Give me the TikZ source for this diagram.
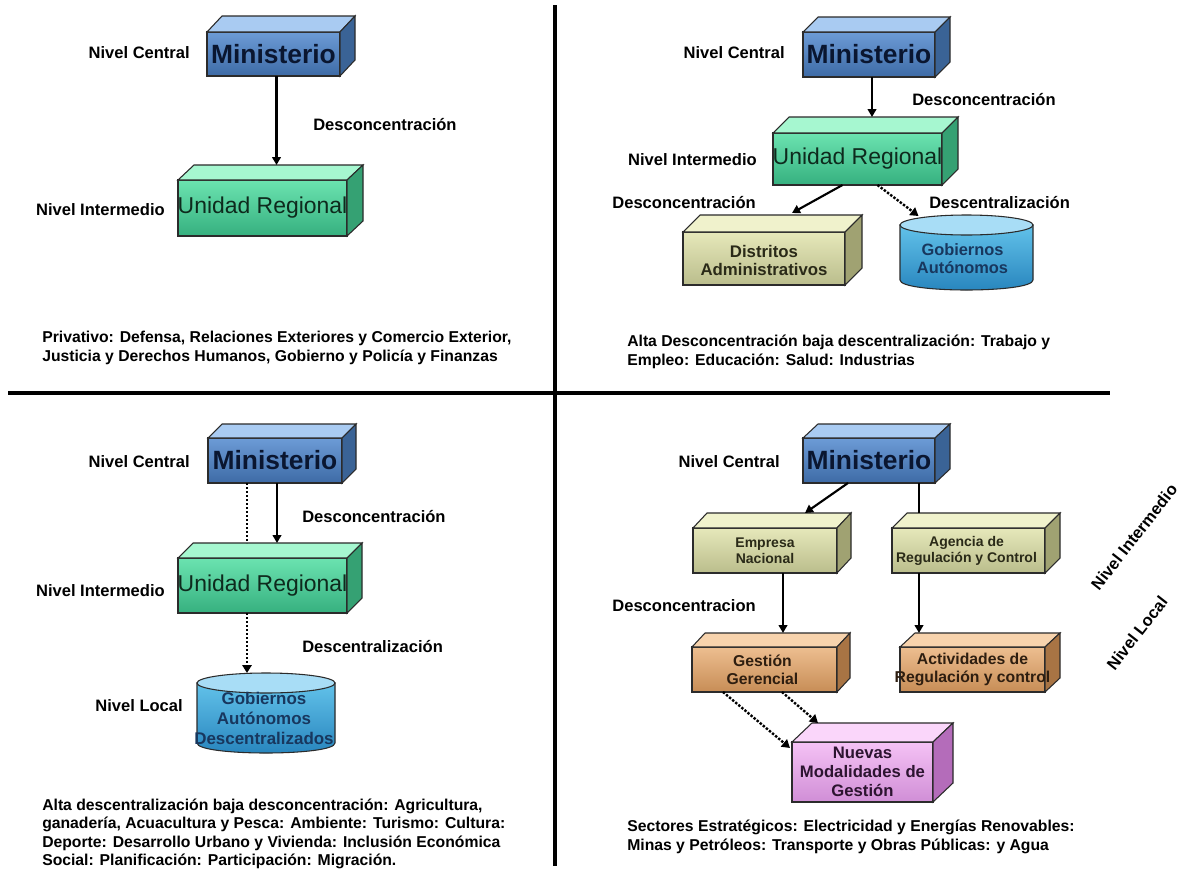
\documentclass[tikz,border=0pt]{standalone}
\usepackage{fontspec}
\setmainfont{Liberation Sans}
\usetikzlibrary{arrows.meta,calc,fit}

% palette
\definecolor{edgec}{HTML}{2B2B2B}
\definecolor{minA}{HTML}{6C9BD6}\definecolor{minB}{HTML}{3E6BA6}
\definecolor{minR}{HTML}{A9CBF2}\definecolor{minS}{HTML}{3A6396}\definecolor{minT}{HTML}{0A1630}
\definecolor{grnA}{HTML}{6BE3B0}\definecolor{grnB}{HTML}{36B07F}
\definecolor{grnR}{HTML}{A6F7D0}\definecolor{grnS}{HTML}{35A173}\definecolor{grnT}{HTML}{0E2A1D}
\definecolor{khaA}{HTML}{E6E8BA}\definecolor{khaB}{HTML}{BABD8C}
\definecolor{khaR}{HTML}{F0F2CC}\definecolor{khaS}{HTML}{A0A272}\definecolor{khaT}{HTML}{2A2A18}
\definecolor{tanA}{HTML}{EDBE90}\definecolor{tanB}{HTML}{C78D56}
\definecolor{tanR}{HTML}{F7D3AD}\definecolor{tanS}{HTML}{A87444}\definecolor{tanT}{HTML}{2E1E10}
\definecolor{pnkA}{HTML}{F5C2F5}\definecolor{pnkB}{HTML}{D08ED6}
\definecolor{pnkR}{HTML}{FAD6FA}\definecolor{pnkS}{HTML}{B46CBA}\definecolor{pnkT}{HTML}{2C1430}
\definecolor{cylA}{HTML}{62C2EA}\definecolor{cylB}{HTML}{2683BC}
\definecolor{cylR}{HTML}{A8DDF6}\definecolor{cylT}{HTML}{18375E}

% front face, roof and right side of a solid block; (#1-back) is the middle of its back top edge
\newcommand\solidbox[8]{%
  \node[fit={(#2,#3) (#4,#5)}, inner sep=0pt, outer sep=0pt, boxline, #8-front] (#1) {};
  \path[boxline, #8-roof] (#1.north west) -- ++(#6,-#7) -- ($(#1.north east)+(#6,-#7)$) -- (#1.north east) -- cycle;
  \path[boxline, #8-side] (#1.north east) -- ($(#1.north east)+(#6,-#7)$) -- ($(#1.south east)+(#6,-#7)$) -- (#1.south east) -- cycle;
  \coordinate (#1-back) at ($(#1.north)+(#6,-#7)$);
}
% upright drum: left, top, right, bottom, half-height of the rim
\newcommand\drum[6]{%
  \node[fit={(#2,#3) (#4,#5)}, inner sep=0pt, outer sep=0pt] (#1) {};
  \path[boxline, top color=cylA, bottom color=cylB] (#2,#3+#6) -- (#2,#5-#6)
    .. controls (#2,#5+#6/3) and (#4,#5+#6/3) .. (#4,#5-#6) -- (#4,#3+#6) -- cycle;
  \path[boxline, fill=cylR] ($(#2,#3+#6)!0.5!(#4,#3+#6)$) ellipse [x radius={(#4-#2)/2}, y radius=#6];
}

\tikzset{
  boxline/.style={draw=edgec, line width=0.8pt},
  min-front/.style={top color=minA, bottom color=minB}, min-roof/.style={fill=minR}, min-side/.style={fill=minS},
  grn-front/.style={top color=grnA, bottom color=grnB}, grn-roof/.style={fill=grnR}, grn-side/.style={fill=grnS},
  kha-front/.style={top color=khaA, bottom color=khaB}, kha-roof/.style={fill=khaR}, kha-side/.style={fill=khaS},
  tan-front/.style={top color=tanA, bottom color=tanB}, tan-roof/.style={fill=tanR}, tan-side/.style={fill=tanS},
  pnk-front/.style={top color=pnkA, bottom color=pnkB}, pnk-roof/.style={fill=pnkR}, pnk-side/.style={fill=pnkS},
  lbl/.style={font=\bfseries\fontsize{12.4}{14}\selectfont, inner sep=0pt},
  captext/.style={font=\bfseries\fontsize{11.8}{14.1}\selectfont, align=left, inner sep=0pt, anchor=north west},
  mintext/.style={font=\bfseries\fontsize{19.8}{22}\selectfont, text=minT, inner sep=0pt},
  urtext/.style={font=\fontsize{17.2}{20}\selectfont, text=grnT, inner sep=0pt},
  smalltext/.style n args={2}{font=\bfseries\fontsize{#1}{#2}\selectfont, align=center, inner sep=0pt},
  arr/.style={line width=1.6pt, -{Triangle[width=6.5pt,length=6pt]}},
  dotarr/.style={line width=1.8pt, dash pattern=on 1.8pt off 1.2pt, -{Triangle[width=7pt,length=6pt]}},
  dotln/.style={line width=1.8pt, dash pattern=on 1.8pt off 1.2pt},
  divider/.style={line width=2.6pt, draw=black},
}

\begin{document}
\begin{tikzpicture}[x=0.75pt, y=-0.75pt]
\useasboundingbox (0,0) rectangle (1193,871);
\fill[white] (0,0) rectangle (1193,871);

% quadrant dividers
\draw[divider] (555,5) -- (555,866);
\draw[divider] (8,393) -- (1110,393);

% ---------- top left: privative model ----------
\solidbox{m1}{207}{32}{340}{76}{15}{16}{min}
\node[mintext] (m1t) at (m1) {Ministerio};
\solidbox{u1}{178}{180}{347}{236}{16}{15}{grn}
\node[urtext] (u1t) at (u1) {Unidad Regional};
\draw[arr] ($(m1.south)+(3,0)$) coordinate (q1a) -- (q1a |- u1-back);
\node[lbl, anchor=east] (l1a) at (190,53) {Nivel Central};
\node[lbl, anchor=west] (l1b) at (313,125) {Desconcentración};
\node[lbl, anchor=east] (l1c) at (165,210) {Nivel Intermedio};
\node[captext] (c1) at (42,331) {Privativo: Defensa, Relaciones Exteriores y Comercio Exterior,\\Justicia y Derechos Humanos, Gobierno y Policía y Finanzas};

% ---------- top right: high deconcentration ----------
\solidbox{m2}{803}{32}{935}{77}{15}{15}{min}
\node[mintext] (m2t) at (m2) {Ministerio};
\solidbox{u2}{773}{133}{942}{185}{16}{16}{grn}
\node[urtext] (u2t) at (u2) {Unidad Regional};
\solidbox{d2}{683}{232}{845}{285}{17}{17}{kha}
\node[smalltext={12.6}{12.8}, text=khaT] (d2t) at ($(d2)+(0,2)$) {Distritos\\Administrativos};
\drum{g2}{900}{215}{1033}{290}{10}
\node[smalltext={12.3}{13.5}, text=cylT] (g2t) at ($(g2)+(-4,6)$) {Gobiernos\\Autónomos};
\draw[arr] ($(m2.south)+(3,0)$) coordinate (q2a) -- (q2a |- u2-back);
\draw[arr] ($(u2.south)+(-15,0)$) -- ($(d2-back)+(11,-2)$);
\draw[dotarr] ($(u2.south)+(20,0)$) -- ($(g2.north)+(-48,1)$);
\node[lbl, anchor=east] (l2a) at (785,53) {Nivel Central};
\node[lbl, anchor=west] (l2b) at (912,100) {Desconcentración};
\node[lbl, anchor=east] (l2c) at (757,160) {Nivel Intermedio};
\node[lbl, anchor=east] (l2d) at (756,203) {Desconcentración};
\node[lbl, anchor=west] (l2e) at (929,203) {Descentralización};
\node[captext] (c2) at (627,335) {Alta Desconcentración baja descentralización: Trabajo y\\Empleo: Educación: Salud: Industrias};

% ---------- bottom left: high decentralisation ----------
\solidbox{m3}{208}{438}{342}{483}{14}{14}{min}
\node[mintext] (m3t) at (m3) {Ministerio};
\solidbox{u3}{178}{558}{347}{613}{15}{15}{grn}
\node[urtext] (u3t) at (u3) {Unidad Regional};
\drum{g3}{197}{673}{335}{753}{10}
\node[smalltext={12.7}{15}, text=cylT] (g3t) at ($(g3)+(-2,5)$) {Gobiernos\\Autónomos\\Descentralizados};
\draw[dotln] ($(m3.south)+(-28,0)$) coordinate (q3a) -- (q3a |- u3-back);
\draw[arr] ($(m3.south)+(2,0)$) coordinate (q3b) -- (q3b |- u3-back);
\draw[dotarr] ($(u3.south)+(-15.5,0)$) coordinate (q3c) -- (q3c |- g3.north);
\node[lbl, anchor=east] (l3a) at (190,462) {Nivel Central};
\node[lbl, anchor=west] (l3b) at (302,517) {Desconcentración};
\node[lbl, anchor=east] (l3c) at (165,591) {Nivel Intermedio};
\node[lbl, anchor=west] (l3d) at (302,647) {Descentralización};
\node[lbl, anchor=east] (l3e) at (183,706) {Nivel Local};
\node[captext, font=\bfseries\fontsize{11.8}{13.6}\selectfont] (c3) at (42,799) {Alta descentralización baja desconcentración: Agricultura,\\ganadería, Acuacultura y Pesca: Ambiente: Turismo: Cultura:\\Deporte: Desarrollo Urbano y Vivienda: Inclusión Económica\\Social: Planificación: Participación: Migración.};

% ---------- bottom right: strategic sectors ----------
\solidbox{m4}{803}{438}{935}{483}{15}{14}{min}
\node[mintext] (m4t) at (m4) {Ministerio};
\solidbox{e4}{693}{528}{837}{573}{14}{15}{kha}
\node[smalltext={10.5}{12}, text=khaT] (e4t) at (e4) {Empresa\\Nacional};
\solidbox{a4}{892}{528}{1045}{573}{15}{15}{kha}
\node[smalltext={10.5}{12}, text=khaT] (a4t) at ($(a4)+(-2,0)$) {Agencia de\\Regulación y Control};
\solidbox{gg}{692}{647}{837}{692}{13}{14}{tan}
\node[smalltext={11.8}{13.5}, text=tanT] (ggt) at ($(gg)+(-2,0)$) {Gestión\\Gerencial};
\solidbox{ac}{900}{647}{1045}{692}{15}{14}{tan}
\node[smalltext={11.8}{13.5}, text=tanT] (act) at (ac) {Actividades de\\Regulación y control};
\solidbox{nv}{792}{742}{933}{802}{20}{19}{pnk}
\node[smalltext={12.5}{14.2}, text=pnkT] (nvt) at (nv) {Nuevas\\Modalidades de\\Gestión};
\draw[arr] ($(m4.south)+(-21,0)$) -- ($(e4-back)+(26,0)$);
\draw[line width=1.6pt] ($(m4.south)+(50,0)$) coordinate (q4a) -- (q4a |- a4-back);
\draw[arr] ($(e4.south)+(18,0)$) coordinate (q4b) -- (q4b |- gg-back);
\draw[arr] ($(a4.south)+(-49.5,0)$) coordinate (q4c) -- (q4c |- ac-back);
\draw[dotarr] ($(gg.south)+(-41.5,0)$) -- ($(nv.north west)+(-2,6)$);
\draw[dotarr] ($(gg.south)+(17.5,0)$) -- ($(nv.north west)+(26,-19)$);
\node[lbl, anchor=east] (l4a) at (780,462) {Nivel Central};
\node[lbl, anchor=east] (l4b) at (756,606) {Desconcentracion};
\node[lbl, rotate=52] (l4c) at (1134,537) {Nivel Intermedio};
\node[lbl, rotate=52] (l4d) at (1137,633) {Nivel Local};
\node[captext] (c4) at (627,820) {Sectores Estratégicos: Electricidad y Energías Renovables:\\Minas y Petróleos: Transporte y Obras Públicas: y Agua};
\end{tikzpicture}
\end{document}
